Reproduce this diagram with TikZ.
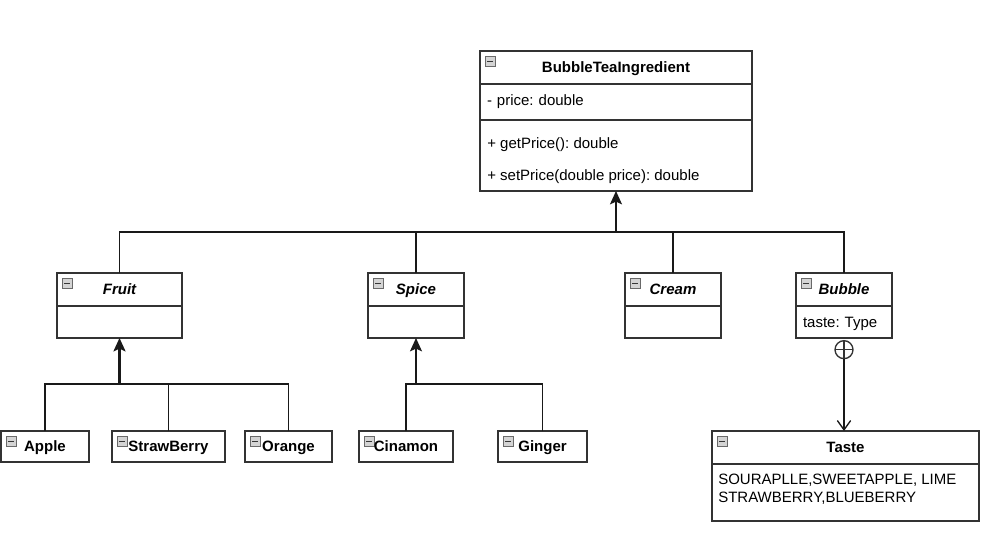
\documentclass[tikz,border=0pt]{standalone}
\usepackage{fontspec}
\setmainfont{Liberation Sans}
\usetikzlibrary{positioning,arrows.meta}
\definecolor{umlline}{RGB}{51,51,51}
\definecolor{iconedge}{RGB}{105,105,105}
\definecolor{iconfill}{RGB}{212,212,212}
\definecolor{icondash}{RGB}{55,55,55}
\tikzset{
  umlbox/.style={rectangle, draw=umlline, line width=1.1pt, fill=white, inner xsep=5.25pt, inner ysep=0pt, outer sep=0pt, anchor=north west},
  collapse/.style={path picture={
    \draw[draw=iconedge, fill=iconfill, line width=0.7pt] ([shift={(3.75pt,-3.75pt)}]path picture bounding box.north west) rectangle ++(8pt,-8pt);
    \draw[draw=icondash, line width=1.2pt] ([shift={(5.5pt,-7.75pt)}]path picture bounding box.north west) -- ++(4.5pt,0pt);}},
  umlhead/.style={umlbox, collapse, font=\bfseries, text centered, text depth=0pt},
  umlabstract/.style={umlhead, font=\bfseries\itshape},
  umlpart/.style={umlbox, align=left},
  umltext/.style={anchor=west, inner sep=0pt, align=left},
  connector/.style={draw=black!90, line width=1pt},
  inherit/.style={connector, -{Stealth[length=10pt,width=9pt,inset=2pt]}},
  nested/.style={connector, -{Straight Barb[length=7pt,width=10pt]}}
}
\begin{document}
\frenchspacing
\fontsize{11.25}{13}\selectfont
\begin{tikzpicture}[x=0.75pt, y=-0.75pt]
\useasboundingbox (0,0) rectangle (993,553);

% Base class
\node (bti) [umlhead, minimum width=204pt, minimum height=24.75pt] at (480,51) {BubbleTeaIngredient};
\node (btiattr) [umlpart, minimum width=204pt, minimum height=27pt, text width=193.5pt, below=0pt of bti] {- price: double};
\node (btiops) [umlpart, minimum width=204pt, minimum height=53.25pt, below=0pt of btiattr] {};
\node (getprice) [umltext] at (487,144.5) {+ getPrice(): double};
\node (setprice) [umltext] at (487,176.5) {+ setPrice(double price): double};

% Abstract subclasses
\node (fruit) [umlabstract, minimum width=93.75pt, minimum height=24.75pt] at (57,273) {Fruit};
\node (fruitbody) [umlpart, minimum width=93.75pt, minimum height=24pt, below=0pt of fruit] {};
\node (spice) [umlabstract, minimum width=72pt, minimum height=24.75pt] at (368,273) {Spice};
\node (spicebody) [umlpart, minimum width=72pt, minimum height=24pt, below=0pt of spice] {};
\node (cream) [umlabstract, minimum width=72pt, minimum height=24.75pt] at (625,273) {Cream};
\node (creambody) [umlpart, minimum width=72pt, minimum height=24pt, below=0pt of cream] {};
\node (bubble) [umlabstract, minimum width=72pt, minimum height=24.75pt] at (796,273) {Bubble};
\node (bubblebody) [umlpart, minimum width=72pt, minimum height=24pt, text width=61.5pt, text depth=0pt, below=0pt of bubble] {taste: Type};

% Concrete classes
\node (apple) [umlhead, minimum width=66pt, minimum height=23.25pt] at (1,431) {Apple};
\node (strawberry) [umlhead, minimum width=84.75pt, minimum height=23.25pt] at (112,431) {StrawBerry};
\node (orange) [umlhead, minimum width=65.25pt, minimum height=23.25pt] at (245,431) {Orange};
\node (cinamon) [umlhead, minimum width=70.5pt, minimum height=23.25pt] at (359,431) {Cinamon};
\node (ginger) [umlhead, minimum width=66.75pt, minimum height=23.25pt] at (498,431) {Ginger};

% Nested enum
\node (taste) [umlhead, minimum width=200.25pt, minimum height=24.75pt] at (712,431) {Taste};
\node (tastebody) [umlpart, minimum width=200.25pt, minimum height=42.75pt, below=0pt of taste] {};
\node (tastevals) [umltext, anchor=north west] at (718,474) {SOURAPLLE,SWEETAPPLE, LIME\\STRAWBERRY,BLUEBERRY};
\node (nest) [circle, draw=umlline, line width=1pt, fill=white, minimum size=13.5pt, inner sep=0pt, anchor=north,
  path picture={\draw[line width=0.8pt] (path picture bounding box.north) -- (path picture bounding box.south)
    (path picture bounding box.west) -- (path picture bounding box.east);}] at ([yshift=-1.5pt]bubblebody.south) {};

% Generalisation
\coordinate (topbus) at (btiops.south |- 0,232);
\draw[inherit] (topbus) -- (btiops.south);
\foreach \c in {fruit,spice,cream,bubble}
  \draw[connector] (\c.north) |- (topbus);

\coordinate (fruitbus) at (fruitbody.south |- 0,384);
\draw[inherit, line width=1.8pt] (fruitbus) -- (fruitbody.south);
\foreach \c in {apple,strawberry,orange}
  \draw[connector] (\c.north) |- (fruitbus);

\coordinate (spicebus) at (spicebody.south |- 0,384);
\draw[inherit] (spicebus) -- (spicebody.south);
\foreach \c in {cinamon,ginger}
  \draw[connector] (\c.north) |- (spicebus);

% Nesting
\draw[nested] (nest.south) -- (nest.south |- taste.north);
\end{tikzpicture}
\end{document}
